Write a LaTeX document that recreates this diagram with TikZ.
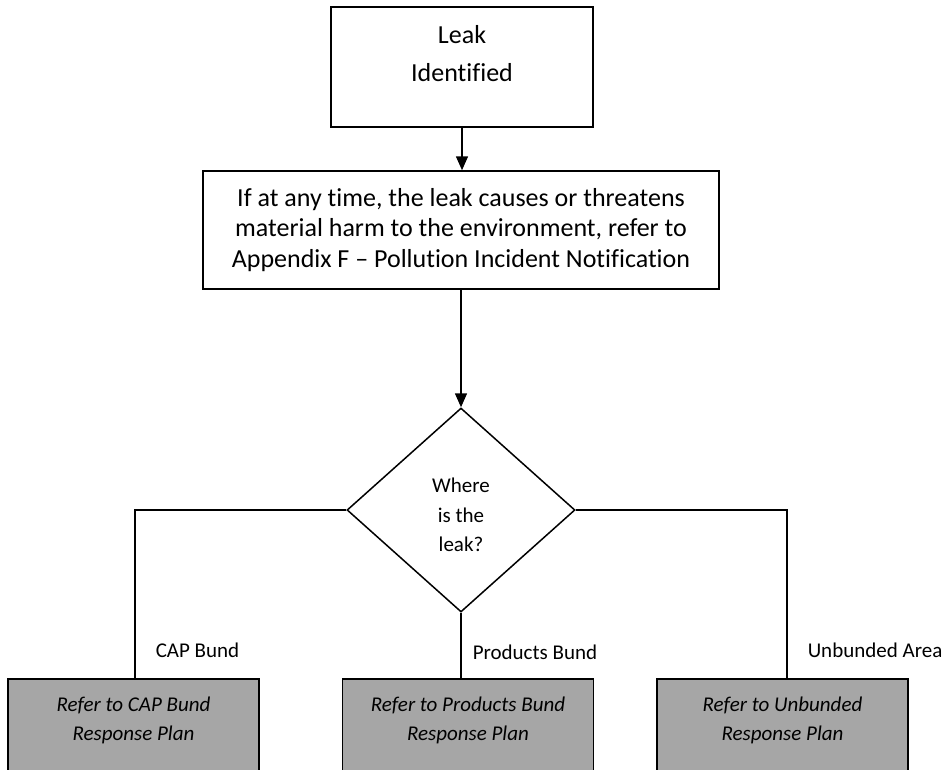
\documentclass[tikz,border=0pt]{standalone}
\usepackage{fontspec}
\setmainfont{Carlito}[Ligatures={NoCommon,NoRequired,NoContextual},RawFeature={-liga;-clig;-dlig;-calt}]
\usetikzlibrary{arrows.meta,shapes.geometric}
\definecolor{planfill}{HTML}{A6A6A6}
\begin{document}
\begin{tikzpicture}[x=1pt,y=-1pt,
  line width=1.5pt,
  box/.style={draw=black, rectangle, inner sep=0pt, align=center},
  planbox/.style={box, fill=planfill, font=\fontsize{21}{29.5}\selectfont\itshape,
    minimum width=251pt, minimum height=130pt, text depth=51pt},
  flow/.style={-{Triangle[width=12pt,length=14pt]}},
  tag/.style={anchor=base west, inner sep=0pt, font=\fontsize{21}{25}\selectfont}
]
\useasboundingbox (0,0) rectangle (947,769);
\clip (0,0) rectangle (947,769);

% process steps
\node[box, font=\fontsize{26}{38}\selectfont, minimum width=262pt,
      minimum height=120pt, text depth=26.6pt] (leak) at (462,67)
  {Leak\\Identified};
\node[box, font=\fontsize{26}{30.5}\selectfont, minimum width=516pt,
      minimum height=118pt] (notify) at (461,230)
  {If at any time, the leak causes or threatens\\
   material harm to the environment, refer to\\
   Appendix F – Pollution Incident Notification};

% decision
\node[diamond, draw=black, inner sep=0pt, minimum width=228pt,
      minimum height=204pt, align=center, text height=83pt, text depth=0pt,
      font=\fontsize{21}{29.5}\selectfont] (where) at (461,510)
  {Where\\is the\\leak?};

% response plans
\node[planbox] (cap)  at (133.5,744) {Refer to CAP Bund\\Response Plan};
\node[planbox] (prod) at (468,744)   {Refer to Products Bund\\Response Plan};
\node[planbox] (unb)  at (782.5,744) {Refer to Unbunded\\Response Plan};

% connectors
\draw[flow] (leak.south) -- (leak.south |- notify.north);
\draw[flow] (notify.south) -- (where.north);
\draw (where.west) -| ([xshift=1.5pt]cap.north);
\draw (where.south) -- (where.south |- prod.north);
\draw (where.east) -| ([xshift=4.5pt]unb.north);

% branch labels
\node[tag] (capl)  at (155,657) {CAP Bund};
\node[tag] (prodl) at (472,659) {Products Bund};
\node[tag] (unbl)  at (807,657) {Unbunded Area};
\end{tikzpicture}
\end{document}
